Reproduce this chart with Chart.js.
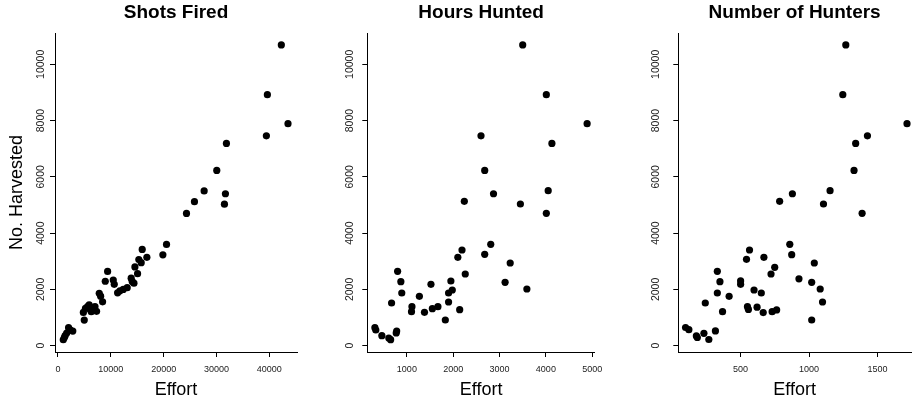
<!DOCTYPE html>
<html>
<head>
<meta charset="utf-8">
<script src="https://cdn.jsdelivr.net/npm/chart.js@4.4.1/dist/chart.umd.min.js"></script>
<style>
  body { margin: 0; background: #fff; }
  canvas { position: absolute; top: 0; }
</style>
</head>
<body>
<canvas id="shotsChart" width="305" height="405" style="left:0px"></canvas>
<canvas id="hoursChart" width="305" height="405" style="left:305px"></canvas>
<canvas id="huntersChart" width="305" height="405" style="left:610px"></canvas>
<script>
// tick values
const harvestTicks = [0, 2000, 4000, 6000, 8000, 10000];
const shotsTicks = [0, 10000, 20000, 30000, 40000];
const hoursTicks = [1000, 2000, 3000, 4000, 5000];
const huntersTicks = [500, 1000, 1500];

// Shots Fired panel
const shotsEffort = [42270, 39630, 43530, 39440, 31880, 30050, 27660, 25830, 31690, 31500, 24320, 20540, 19850, 16820, 15940, 15300, 15750, 14560, 15060, 13850, 14050, 14370, 13100, 12350, 11720, 11280, 9390, 8950, 10460, 10650, 7810, 8070, 8440, 4970, 4800, 5200, 5600, 5900, 6100, 6300, 7000, 7300, 6600, 1000, 1200, 1350, 1650, 2000, 2300, 2800];
const shotsHarvest = [10690, 8920, 7890, 7460, 7190, 6230, 5500, 5120, 5400, 5030, 4700, 3600, 3230, 3140, 3420, 3060, 2950, 2800, 2560, 2400, 2280, 2220, 2060, 2000, 1950, 1880, 2640, 2290, 2330, 2180, 1860, 1760, 1560, 910, 1180, 1330, 1390, 1450, 1290, 1210, 1390, 1220, 1280, 210, 290, 355, 450, 640, 560, 520];

// Hours Hunted panel
const hoursEffort = [3500, 4010, 4890, 2600, 4130, 2680, 4050, 2240, 2870, 3450, 4010, 2810, 2680, 2100, 2190, 3230, 2260, 3120, 3590, 800, 870, 890, 670, 1110, 1100, 1270, 1380, 1520, 1550, 1670, 1830, 1900, 1900, 1980, 1950, 2140, 310, 330, 460, 610, 650, 780, 770];
const hoursHarvest = [10690, 8920, 7890, 7460, 7190, 6230, 5510, 5130, 5400, 5036, 4705, 3602, 3247, 3140, 3400, 2939, 2548, 2252, 2015, 2643, 2275, 1872, 1517, 1387, 1209, 1754, 1185, 2180, 1315, 1387, 912, 1552, 1872, 1979, 2299, 1280, 640, 557, 355, 272, 213, 521, 450];

// Number of Hunters panel
const huntersEffort = [1268, 1246, 1715, 1426, 1340, 1328, 1153, 785, 878, 1105, 1387, 859, 873, 670, 565, 1038, 722, 1019, 1081, 330, 349, 330, 242, 368, 416, 500, 500, 543, 598, 651, 550, 557, 620, 665, 730, 763, 749, 926, 1098, 1019, 98, 122, 177, 184, 232, 268, 316];
const huntersHarvest = [10690, 8920, 7890, 7460, 7190, 6230, 5510, 5130, 5400, 5036, 4705, 3602, 3235, 3140, 3400, 2939, 2548, 2252, 2015, 2643, 2275, 1872, 1517, 1209, 1754, 2300, 2180, 3070, 1979, 1872, 1387, 1290, 1370, 1175, 1209, 1270, 2785, 2375, 1552, 912, 645, 570, 345, 290, 440, 220, 525];

const fontFamily = "'Liberation Sans', Arial, sans-serif";

function makePanel(id, title, xs, ys, xTicks, xMin, xMax, yWidth, padRight, yLabelPad, yTitle) {
  const points = xs.map((x, i) => ({ x: x, y: ys[i] }));

  const config = {
    type: "scatter",
    data: {
      datasets: [
        {
          data: points,
          backgroundColor: "#000",
          borderWidth: 0,
          pointRadius: 3.6,
          clip: false,
        },
      ],
    },
    options: {
      responsive: false,
      animation: false,
      layout: { padding: { left: 0, right: padRight, top: 0, bottom: 0 } },
      plugins: {
        legend: { display: false },
        tooltip: { enabled: false },
        title: {
          display: true,
          text: title,
          fullSize: false,
          color: "#000",
          font: { family: fontFamily, size: 19, weight: "bold", lineHeight: 1 },
          padding: { top: 3, bottom: 11 },
        },
      },
      scales: {
        x: {
          type: "linear",
          min: xMin,
          max: xMax,
          afterBuildTicks: (scale) => {
            scale.ticks = xTicks.map((v) => ({ value: v }));
          },
          afterFit: (scale) => {
            scale.height = 53;
          },
          grid: { drawOnChartArea: false, drawTicks: true, tickLength: 5, color: "#000", lineWidth: 1 },
          border: { display: true, color: "#000", width: 1 },
          ticks: {
            callback: (v) => String(v),
            color: "#222",
            padding: 7.6,
            maxRotation: 0,
            autoSkip: false,
            font: { family: "'Liberation Sans Narrow', 'Liberation Sans', Arial, sans-serif", size: 9 },
          },
          title: {
            display: true,
            text: "Effort",
            color: "#000",
            font: { family: fontFamily, size: 18, lineHeight: 1 },
            padding: { top: 0, bottom: 6 },
          },
        },
        y: {
          type: "linear",
          min: -225,
          max: 11114,
          afterBuildTicks: (scale) => {
            scale.ticks = harvestTicks.map((v) => ({ value: v }));
          },
          afterFit: (scale) => {
            scale.width = yWidth;
          },
          grid: { drawOnChartArea: false, drawTicks: true, tickLength: 5, color: "#000", lineWidth: 1 },
          border: { display: true, color: "#000", width: 1 },
          ticks: {
            callback: (v) => String(v),
            color: "#222",
            padding: yLabelPad,
            minRotation: 90,
            maxRotation: 90,
            crossAlign: "center",
            autoSkip: false,
            font: { family: fontFamily, size: 10.5 },
          },
          title: {
            display: yTitle !== "",
            text: yTitle,
            color: "#000",
            font: { family: fontFamily, size: 18, lineHeight: 1 },
            padding: { top: 8, bottom: 0 },
          },
        },
      },
    },
  };

  return new Chart(document.getElementById(id), config);
}

makePanel("shotsChart", "Shots Fired", shotsEffort, shotsHarvest, shotsTicks, -567, 45236, 55, 8, -5.8, "No. Harvested");
makePanel("hoursChart", "Hours Hunted", hoursEffort, hoursHarvest, hoursTicks, 146, 5059, 62.3, 1, -2.6, "");
makePanel("huntersChart", "Number of Hunters", huntersEffort, huntersHarvest, huntersTicks, 45, 1744, 68.3, 0, 2.4, "");
</script>
</body>
</html>
